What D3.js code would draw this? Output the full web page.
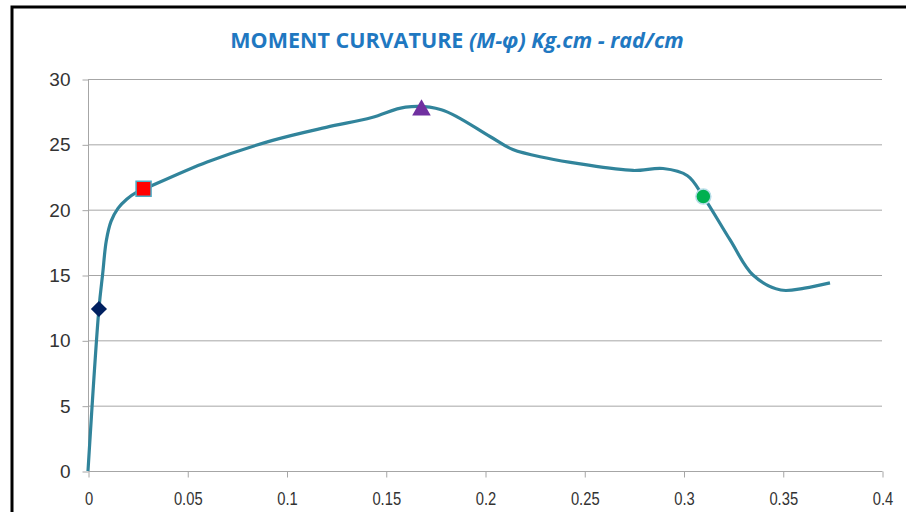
<!DOCTYPE html>
<html>
<head>
<meta charset="utf-8">
<script src="https://cdn.jsdelivr.net/npm/d3@7"></script>
<style>
  body { margin: 0; background: #fff; }
  svg { display: block; }
</style>
</head>
<body>
<svg id="chart" width="906" height="512"></svg>
<script>
// curvature (rad/cm) and moment (Kg.cm)
const curvature = [0, 0.0055, 0.0074, 0.0092, 0.0116, 0.0151, 0.0195, 0.0242, 0.0287, 0.060, 0.093, 0.120,
                   0.143, 0.160, 0.178, 0.2025, 0.214, 0.231, 0.248, 0.2746, 0.2897, 0.302, 0.310,
                   0.3234, 0.335, 0.349, 0.361, 0.3738]
const moment = [0, 12.4, 15.1, 17.6, 19.1, 20.1, 20.8, 21.3, 21.6, 23.65, 25.3, 26.3,
                27.05, 27.85, 27.65, 25.6, 24.6, 23.95, 23.5, 23.0, 23.15, 22.6, 21.0,
                17.7, 15.0, 13.85, 14.0, 14.4]
// key points shown with markers
const markerNames = ["yield", "first", "peak", "ultimate"]
const markerX = [0.0055, 0.028, 0.168, 0.310]
const markerY = [12.4, 21.6, 27.7, 21.0]
const xTicks = [0, 0.05, 0.1, 0.15, 0.2, 0.25, 0.3, 0.35, 0.4]
const yTicks = [0, 5, 10, 15, 20, 25, 30]

const svg = d3.select("#chart")
const x = d3.scaleLinear().domain([0, 0.4]).range([88, 882])
const y = d3.scaleLinear().domain([0, 30]).range([471, 79])

// outer border (cropped at right/bottom)
svg.append("rect")
    .attr("x", 12).attr("y", 7)
    .attr("width", 920).attr("height", 540)
    .attr("fill", "none")
    .attr("stroke", "#000")
    .attr("stroke-width", 3)

// title
const title = svg.append("text")
    .attr("x", 457).attr("y", 48)
    .attr("text-anchor", "middle")
    .attr("font-family", "'Open Sans', 'Liberation Sans', sans-serif")
    .attr("font-weight", "bold")
    .attr("font-size", 21.5)
    .attr("fill", "#1F78C1")
title.append("tspan").text("MOMENT CURVATURE ")
title.append("tspan").attr("font-style", "italic").text("(M-φ) Kg.cm - rad/cm")

// horizontal gridlines
svg.append("g")
    .selectAll("line")
    .data(yTicks.filter(d => d > 0))
    .join("line")
    .attr("x1", x(0)).attr("x2", x(0.4))
    .attr("y1", d => y(d) + 0.5).attr("y2", d => y(d) + 0.5)
    .attr("stroke", "#a6a6a6")

// y axis
const yAxis = svg.append("g")
    .attr("transform", `translate(${x(0) + 0.5},0.5)`)
    .call(d3.axisLeft(y).tickValues(yTicks).tickSize(6).tickPadding(12).tickFormat(d3.format("d")))
yAxis.selectAll("path, line").attr("stroke", "#a6a6a6")
yAxis.select(".domain").attr("d", `M0,${y(30)}V${y(0)}`)
yAxis.selectAll("text")
    .attr("font-family", "'Liberation Sans', sans-serif")
    .attr("font-size", 19)
    .attr("fill", "#333")

// x axis
const xAxis = svg.append("g")
    .attr("transform", `translate(0.5,${y(0) + 0.5})`)
    .call(d3.axisBottom(x).tickValues(xTicks).tickSize(6).tickPadding(13).tickFormat(d => d === 0 ? "0" : String(d)))
xAxis.selectAll("path, line").attr("stroke", "#a6a6a6")
xAxis.select(".domain").attr("d", `M${x(0)},0H${x(0.4)}`)
xAxis.selectAll("text")
    .attr("font-family", "'Liberation Sans', sans-serif")
    .attr("font-size", 18)
    .attr("fill", "#333")
    .attr("transform", "scale(0.82,1.05)")

// curve
const pts = curvature.map((c, i) => [c, moment[i]])
const line = d3.line()
    .x(d => x(d[0]))
    .y(d => y(d[1]))
    .curve(d3.curveCatmullRom.alpha(0.5))
svg.append("path")
    .datum(pts)
    .attr("d", line)
    .attr("fill", "none")
    .attr("stroke", "#31849B")
    .attr("stroke-width", 3.2)
    .attr("stroke-linejoin", "round")

// markers
const mk = svg.append("g")
// diamond
mk.append("path")
    .attr("d", d3.symbol(d3.symbolSquare, 130)())
    .attr("transform", `translate(${x(markerX[0])},${y(markerY[0])}) rotate(45)`)
    .attr("fill", "#002060")
// square
mk.append("rect")
    .attr("x", x(markerX[1]) - 7.5).attr("y", y(markerY[1]) - 7.5)
    .attr("width", 15).attr("height", 15)
    .attr("fill", "#FF0000")
    .attr("stroke", "#4BACC6")
    .attr("stroke-width", 1.5)
// triangle
mk.append("path")
    .attr("d", d3.symbol(d3.symbolTriangle, 150)())
    .attr("transform", `translate(${x(markerX[2])},${y(markerY[2]) + 1})`)
    .attr("fill", "#7030A0")
// circle
mk.append("circle")
    .attr("cx", x(markerX[3])).attr("cy", y(markerY[3]))
    .attr("r", 7.5)
    .attr("fill", "#00B050")
    .attr("stroke", "#B7DDE8")
    .attr("stroke-width", 1.5)
</script>
</body>
</html>
